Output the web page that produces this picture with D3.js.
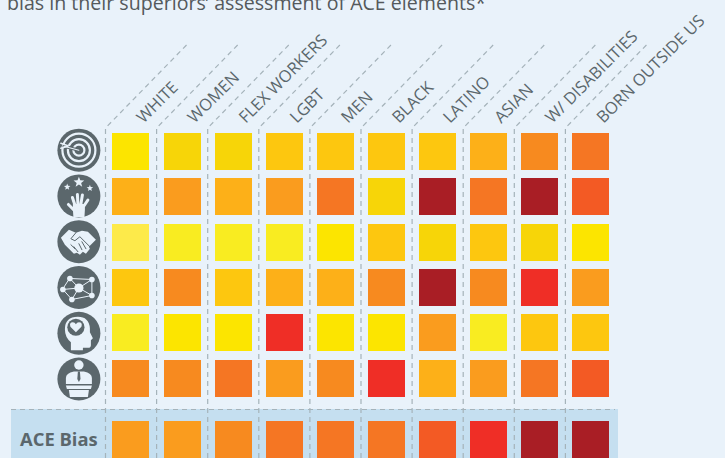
<!DOCTYPE html>
<html><head><meta charset="utf-8">
<style>html,body{margin:0;padding:0;background:#e9f2fa;overflow:hidden}svg{display:block}</style>
<script src="https://cdn.jsdelivr.net/npm/d3@7"></script></head><body>
<script>
const categories=["WHITE","WOMEN","FLEX WORKERS","LGBT","MEN","BLACK","LATINO","ASIAN","W/ DISABILITIES","BORN OUTSIDE US"];
const rowsNames=["target","hand","handshake","network","head","speaker"];
const r1=[2,3,3,4,4,4,4,5,7,8];
const r2=[5,6,5,6,8,3,11,8,11,9];
const r3=[0,1,1,1,2,4,3,4,3,2];
const r4=[4,7,4,5,5,7,11,7,10,6];
const r5=[1,2,2,10,2,2,6,1,4,4];
const r6=[7,7,8,6,7,10,5,6,8,9];
const aceBias=[6,6,7,8,8,8,9,10,11,11];
const levels=d3.range(12);
const palette=["#fdea4a","#f9ec21","#fce500","#f7d508","#fdc70f","#fdb018","#fa9c1e","#f78a1f","#f57623","#f35a24","#ef2e26","#a91e25"];
const W=725,H=458;
const svg=d3.select("body").append("svg").attr("width",W).attr("height",H);
svg.append("rect").attr("width",W).attr("height",H).attr("fill","#e9f2fa");
const font="'Open Sans',sans-serif",ink="#5b676c",dash="#a5b3ba";
svg.append("text").attr("x",7).attr("y",10).attr("font-family",font).attr("font-size",19.6).attr("fill","#54595c")
 .text("bias in their superiors’ assessment of ACE elements*");
const color=d3.scaleOrdinal(levels,palette);
const x=d3.scaleBand(categories,[105.5,616.5]);
const y=d3.scaleBand(d3.range(6),[128.4,400.4]);
const iconY=d3.scalePoint(d3.range(6),[150.2,379]);
svg.append("rect").attr("x",11).attr("y",409).attr("width",607).attr("height",49).attr("fill","#c5dff0");
const g=svg.append("g");
const guides=g.selectAll("g.c").data(categories).join("g");
guides.append("path").attr("fill","none").attr("stroke",dash).attr("stroke-width",1.2).attr("stroke-dasharray","5 4")
 .attr("d",d=>{const a=x(d);return `M${a},458V128L${a+83},43`;});
g.append("line").attr("x1",11).attr("x2",615).attr("y1",409.5).attr("y2",409.5).attr("stroke",dash).attr("stroke-width",1.2).attr("stroke-dasharray","5 4");
guides.append("text").attr("font-family",font).attr("font-size",16.5).attr("fill",ink)
 .attr("transform",d=>`translate(${x(d)+38},124) rotate(-45)`).text(d=>d);
const matrix=[r1,r2,r3,r4,r5,r6];
const cw=37;
matrix.forEach((row,i)=>{
 svg.append("g").selectAll("rect").data(row).join("rect")
  .attr("x",(d,j)=>Math.round(x(categories[j])+6.9)).attr("y",Math.round(y(i)+4.7)).attr("width",cw).attr("height",cw)
  .attr("fill",d=>color(d));
});
svg.append("g").selectAll("rect").data(aceBias).join("rect")
 .attr("x",(d,j)=>Math.round(x(categories[j])+6.9)).attr("y",421).attr("width",cw).attr("height",37).attr("fill",d=>color(d));
svg.append("text").attr("x",20).attr("y",446).attr("font-family",font).attr("font-weight",700).attr("font-size",18.4).attr("fill",ink).text("ACE Bias");
const light="#e9f2fa";
const icons=svg.append("g").selectAll("g").data(rowsNames).join("g")
 .attr("transform",(d,i)=>`translate(78.9,${iconY(i)})`);
icons.append("circle").attr("r",21.5).attr("fill",ink);
icons.each(function(n){
 const s=d3.select(this);
 const c=(cx,cy,r,o={})=>s.append("circle").attr("cx",cx).attr("cy",cy).attr("r",r).attr("fill",o.fill||light).attr("stroke",o.stroke||null).attr("stroke-width",o.sw||null);
 const p=(d,o={})=>s.append("path").attr("d",d).attr("fill",o.fill||light).attr("stroke",o.stroke||null).attr("stroke-width",o.sw||null).attr("stroke-linecap","round").attr("stroke-linejoin","round");
 const star=(cx,cy,r)=>s.append("path").attr("transform",`translate(${cx},${cy})`).attr("fill",light)
   .attr("d",d3.lineRadial().radius((d,i)=>i%2?r*0.42:r).angle((d,i)=>i*Math.PI/5).curve(d3.curveLinearClosed)(d3.range(10)));
 if(n==="target"){
  c(0,0,16.5,{fill:"none",stroke:light,sw:2.2});
  c(0,0,11,{fill:"none",stroke:light,sw:2.2});
  c(0,0,5.5,{fill:"none",stroke:light,sw:2.2});
  p("M0,0L-15,-4",{stroke:ink,sw:3,fill:"none"});
  p("M0,0L-15,-4",{stroke:light,sw:1.1,fill:"none"});
  p("M-18,-7L-11,-4.5M-18,-2L-11,-4",{stroke:light,sw:1.6,fill:"none"});
 }
 if(n==="hand"){
  star(0,-13.7,5.6);star(-11.7,-9,3.4);star(11,-7.7,3.4);
  p("M-6,8L6,8L6,14L5.5,21L-5.5,21L-6,14Z");
  p("M-4,9L-6.5,1.5M-1,8L-1.5,-1.5M2,8L3.5,-1M5,10L9,4M-5,14L-10.5,8.5",{fill:"none",stroke:light,sw:3});
 }
 if(n==="handshake"){
  p("M-18,-4L-10,-12L-3,-9L3,-11L9,-10L17,-2L10,5L11,7L7,12L4,10L1,13L-2,11L-5,12L-10,7L-14,3Z");
  p("M-3,-9L-8,-3L-4,-1L1,-5L11,5M3,0L7,7M0,2L3,8M-8,3L-4,7M-5,5L-1,10",{fill:"none",stroke:ink,sw:1});
 }
 if(n==="network"){
  const pts=[[-9,-9],[13,-8],[-16,2],[-7,12],[13,8]];
  pts.forEach(q=>p(`M0,0.5L${q[0]},${q[1]}`,{fill:"none",stroke:light,sw:1}));
  p(`M${pts[0]}L${pts[1]}L${pts[4]}L${pts[3]}L${pts[2]}Z`,{fill:"none",stroke:light,sw:1});
  pts.forEach(q=>c(q[0],q[1],2.8));
  c(0,0.5,4.6);
 }
 if(n==="head"){
  p("M-8,17L-8,9Q-14,4 -14,-4Q-14,-16.5 -1,-16.5Q10,-16.5 11,-5L11,-1L14,5L12,7L12,12Q12,15 8,14.5L4,14.5L4,17Z");
  c(-3,-6,8.6,{fill:ink});
  p("M0,5L-5.5,-0.5Q-7,-5 -3,-5Q-1,-5 0,-3Q1,-5 3,-5Q7,-5 5.5,-0.5Z").attr("transform","translate(-3,-6)");
 }
 if(n==="speaker"){
  c(0,-14,4.7);
  p("M-13,5L-13,-1Q-13,-6 -5,-7.5L5,-7.5Q13,-6 13,-1L13,5Z");
  p("M-1,-7.5L1,-7.5L1.6,0L0,3L-1.6,0Z",{fill:ink});
  p("M-13,6.5L13,6.5L12,10L-12,10Z");
  p("M-10,11L10,11L9,18L-9,18Z");
 }
});
</script></body></html>
